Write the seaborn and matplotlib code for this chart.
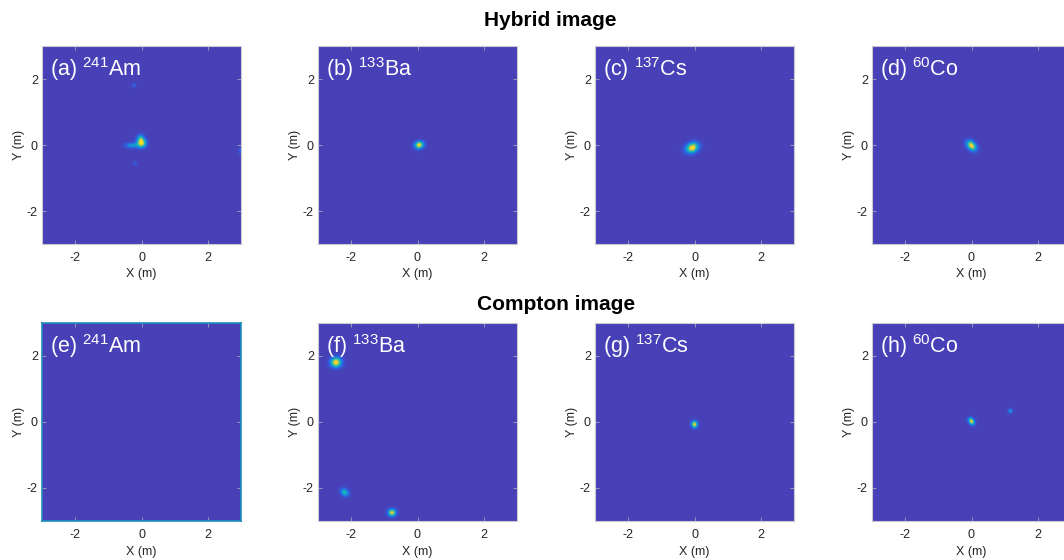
import numpy as np
import pandas as pd
import matplotlib
matplotlib.use('Agg')
import matplotlib.pyplot as plt
import seaborn as sns
from matplotlib.colors import LinearSegmentedColormap

# Panel text
row_titles = ['Hybrid image', 'Compton image']
panel_tags = ['(a)', '(b)', '(c)', '(d)', '(e)', '(f)', '(g)', '(h)']
mass_numbers = ['241', '133', '137', '60', '241', '133', '137', '60']
elements = ['Am', 'Ba', 'Cs', 'Co', 'Am', 'Ba', 'Cs', 'Co']
tick_values = [-2, 0, 2]

# Hot spots: x (m), y (m), sigma_x, sigma_y, tilt (deg), peak
spots_a = [(0.00, 0.06, 0.10, 0.09, 0, 1.00),
           (-0.30, -0.01, 0.14, 0.055, 0, 0.38),
           (-0.03, 0.20, 0.08, 0.08, 0, 0.45),
           (-0.24, 1.82, 0.045, 0.045, 0, 0.18),
           (-0.20, -0.55, 0.045, 0.045, 0, 0.15),
           (2.98, -0.18, 0.04, 0.07, 0, 0.15)]
spots_b = [(0.05, 0.00, 0.10, 0.075, 10, 1.00)]
spots_c = [(-0.07, -0.08, 0.14, 0.10, 20, 1.00)]
spots_d = [(0.00, -0.02, 0.12, 0.085, -40, 1.00)]
spots_e = []
spots_f = [(-2.46, 1.82, 0.11, 0.10, 0, 1.00),
           (-2.20, -2.14, 0.09, 0.07, -40, 0.55),
           (-0.78, -2.75, 0.08, 0.075, 0, 0.90)]
spots_g = [(0.00, -0.07, 0.07, 0.07, 0, 1.00)]
spots_h = [(0.00, 0.02, 0.08, 0.06, -45, 1.00),
           (1.18, 0.33, 0.045, 0.045, 0, 0.40)]
all_spots = [spots_a, spots_b, spots_c, spots_d, spots_e, spots_f, spots_g, spots_h]

# washed-out parula
parula = LinearSegmentedColormap.from_list('parula_like', [
    (0.00, '#4840b6'), (0.15, '#2f5fe0'), (0.30, '#1a86d8'), (0.45, '#10a8cc'),
    (0.60, '#38bca0'), (0.75, '#90c468'), (0.88, '#e0c640'), (1.00, '#f6e81c')])

step = 0.03
n = 200
centers = -3 + (np.arange(n) + 0.5) * step


def make_image(spots):
    xx, yy = np.meshgrid(centers, centers[::-1])
    img = np.zeros_like(xx)
    for x0, y0, sx, sy, ang, amp in spots:
        t = np.deg2rad(ang)
        dx, dy = xx - x0, yy - y0
        u = dx * np.cos(t) + dy * np.sin(t)
        v = -dx * np.sin(t) + dy * np.cos(t)
        img += amp * np.exp(-0.5 * ((u / sx) ** 2 + (v / sy) ** 2))
    return pd.DataFrame(img, index=np.round(centers[::-1], 3), columns=np.round(centers, 3))


plt.rcParams['font.family'] = ['Liberation Sans', 'DejaVu Sans']
plt.rcParams['mathtext.default'] = 'regular'

fig = plt.figure(figsize=(10.64, 5.6), dpi=100)
lefts = [42, 318, 595, 872]
tops = [46, 323]
w_px, h_px = 199, 198

for k in range(8):
    r, c = divmod(k, 4)
    ax = fig.add_axes([lefts[c] / 1064, 1 - (tops[r] + h_px) / 560, w_px / 1064, h_px / 560])
    sns.heatmap(make_image(all_spots[k]), ax=ax, cmap=parula, vmin=0, vmax=1,
                cbar=False, xticklabels=False, yticklabels=False)
    ax.set_xticks([(v + 3) / step for v in tick_values])
    ax.set_xticklabels([str(v) for v in tick_values])
    ax.set_yticks([(3 - v) / step for v in tick_values])
    ax.set_yticklabels([str(v) for v in tick_values], rotation=0)
    ax.tick_params(direction='in', top=True, right=True, length=3, width=0.6,
                   color='#a8a8b8', labelsize=9, labelcolor='#262626', pad=3)
    ax.tick_params(axis='x', pad=6)
    ax.set_xlabel('X (m)', fontsize=9, color='#262626', labelpad=3)
    ax.set_ylabel('Y (m)', fontsize=9, color='#262626', labelpad=1)
    for s in ax.spines.values():
        s.set_visible(True)
        s.set_zorder(5)
        if k == 4:
            s.set_linewidth(1.2)
            s.set_color('#1e8fc0')
        else:
            s.set_linewidth(0.8)
            s.set_color('#c8c8d0')
    ax.text(0.04, 0.955, '%s $^{%s}$%s' % (panel_tags[k], mass_numbers[k], elements[k]),
            transform=ax.transAxes, ha='left', va='top', color='white', fontsize=15.5)

fig.text(550 / 1064, 1 - 21 / 560, row_titles[0], ha='center', va='center',
         fontsize=15, fontweight='bold', color='black')
fig.text(556 / 1064, 1 - 305 / 560, row_titles[1], ha='center', va='center',
         fontsize=15, fontweight='bold', color='black')

fig.savefig('out.png', dpi=100)
